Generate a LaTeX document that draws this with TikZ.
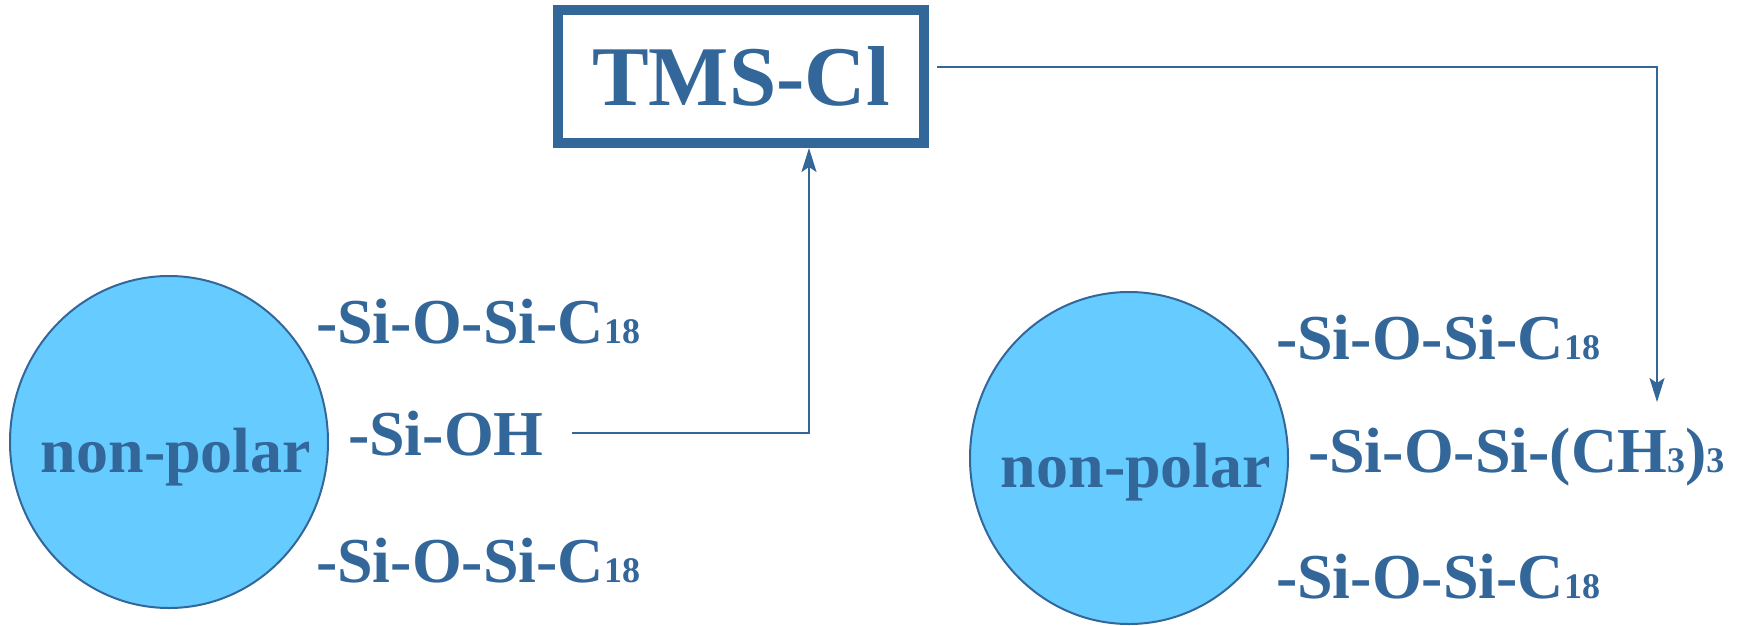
\documentclass[tikz,border=0pt]{standalone}
\usepackage{fontspec}
\setmainfont{Liberation Serif}
\usetikzlibrary{arrows.meta,shapes.geometric}
\definecolor{ink}{RGB}{51,102,153}
\definecolor{bead}{RGB}{102,204,255}
\newcommand{\bigtxt}{\fontsize{64}{70}\selectfont\bfseries}
\newcommand{\subtxt}[1]{{\fontsize{36}{40}\selectfont #1}}
\tikzset{
  bead/.style={ellipse, draw=ink, fill=bead, line width=2pt, minimum width=318pt, minimum height=332pt, inner sep=0pt},
  grp/.style={anchor=base west, inner sep=0pt, outer sep=0pt, text=ink, font=\bigtxt},
  label/.style={anchor=base, inner sep=0pt, text=ink, font=\bigtxt},
  reagent/.style={draw=ink, line width=10pt, minimum width=366pt, minimum height=133pt, inner sep=0pt, text=ink, font=\fontsize{85}{92}\selectfont\bfseries},
  conn/.style={draw=ink, line width=2pt, -{Stealth[length=24pt,width=15pt,inset=5pt]}}
}
\begin{document}
\begin{tikzpicture}[x=1pt,y=-1pt]
\useasboundingbox (0,0) rectangle (1745,625);
% reagent box
\node[reagent] (tms) at (741,76.5) {TMS-Cl};
% left particle
\node[bead] (c1) at (169,442) {};
\node[label] (np1) at (176,472) {non-polar};
\node[grp] (l1) at (316,343) {-Si-O-Si-C\subtxt{18}};
\node[grp] (oh) at (348,455) {-Si-OH};
\node[grp] (l3) at (316,582) {-Si-O-Si-C\subtxt{18}};
% right particle
\node[bead] (c2) at (1129,458) {};
\node[label] (np2) at (1136,487) {non-polar};
\node[grp] (r1) at (1276,359) {-Si-O-Si-C\subtxt{18}};
\node[grp] (r2) at (1308,472) {-Si-O-Si-(CH\subtxt{3})\subtxt{3}};
\node[grp] (r3) at (1276,598) {-Si-O-Si-C\subtxt{18}};
\coordinate (tip) at (1657,402);
% connectors
\draw[conn] ([xshift=28pt]oh.east) -| ([xshift=68pt]tms.south);
\draw[conn] ([xshift=8pt,yshift=9.5pt]tms.east) -| (tip);
\end{tikzpicture}
\end{document}
